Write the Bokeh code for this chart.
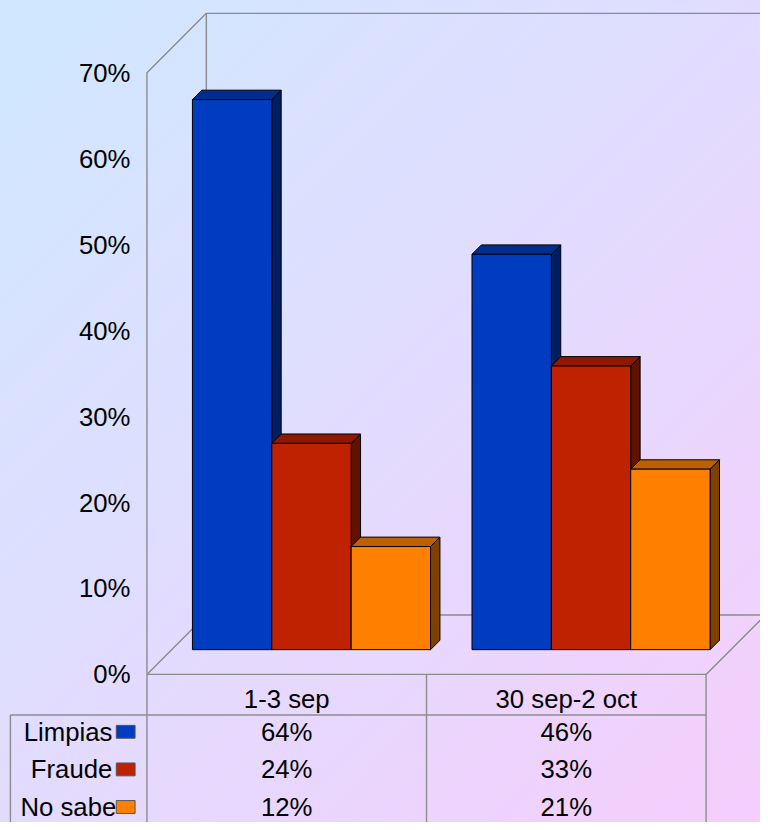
from bokeh.plotting import figure
from bokeh.models import FixedTicker, LinearAxis, Range1d, CustomJSTickFormatter
from bokeh.core.properties import value
from bokeh.embed import file_html
from bokeh.resources import INLINE

categories = ["1-3 sep", "30 sep-2 oct"]
series = ["Limpias", "Fraude", "No sabe"]
limpias = [64, 46]
fraude = [24, 33]
no_sabe = [12, 21]
y_ticks = [0, 10, 20, 30, 40, 50, 60, 70]
front_colors = ["#003cbf", "#bf2200", "#ff8000"]
top_colors = ["#002d8f", "#8f1900", "#bf6000"]
side_colors = ["#001f60", "#601100", "#804000"]
values = [limpias, fraude, no_sabe]

FONT = "Liberation Sans"
GRID = "#8c8c8c"

# Layout constants: reference pixels, scaled to the 760x822 figure
W, H = 760, 822
S = W / 768
FS = f"{26 * S:.2f}px"
AX_X = 148 * S
CAT_PX = 282.5 * S
VAL_PX = 608 / 70 * S
Y0 = 681 * S

p = figure(width=W, height=H, output_backend="svg", toolbar_location=None,
           x_range=Range1d(-AX_X / CAT_PX, (W - AX_X) / CAT_PX),
           y_range=Range1d(-(H - Y0) / VAL_PX, Y0 / VAL_PX),
           min_border_left=0, min_border_right=0, min_border_top=0, min_border_bottom=0,
           x_axis_type=None, y_axis_type=None,
           border_fill_color=None, background_fill_color=None, outline_line_color=None)
p.grid.visible = False
p.styles = {"background": "linear-gradient(135deg, #cfe8ff 0%, #e2dcff 50%, #f5cefc 100%)"}


def dx(px):
    return px * S / CAT_PX


def dy(px):
    return px * S / VAL_PX


DEPTH = dx(60), dy(60)

axis = LinearAxis(ticker=FixedTicker(ticks=y_ticks),
                  major_tick_line_color=None, minor_tick_line_color=None,
                  axis_line_color=None, major_label_standoff=-round(137 * S),
                  major_label_text_font=FONT, major_label_text_font_size=FS,
                  major_label_text_color="#000000",
                  formatter=CustomJSTickFormatter(code="return tick + '%'"))
p.add_layout(axis, "left")

n = len(categories)
top = y_ticks[-1]
xmax = (W - AX_X) / CAT_PX
# walls and floor
wall_x = [[0, 0, DEPTH[0], xmax], [DEPTH[0], DEPTH[0]], [0, DEPTH[0], xmax], [0, n], [n, n + DEPTH[0]]]
wall_y = [[0, top, top + DEPTH[1], top + DEPTH[1]], [top + DEPTH[1], DEPTH[1]],
          [0, DEPTH[1], DEPTH[1]], [0, 0], [0, DEPTH[1]]]
p.multi_line(wall_x, wall_y, line_color=GRID, line_width=1.4)

# table
T1 = dy(-41)
TB = -(H - Y0) / VAL_PX
XL = dx(10 - 148)
p.multi_line([[0, 0], [1, 1], [n, n], [XL, n], [XL, XL]],
             [[0, TB], [0, TB], [0, TB], [T1, T1], [T1, TB]], line_color=GRID, line_width=1.4)

# bars
bar_w = dx(80.2)
off_x, off_y = dx(25), dy(25)
d_x, d_y = dx(9.5), dy(9.5)
for c in range(n):
    for s in range(len(series)):
        v = values[s][c]
        x0 = c + 0.5 + off_x + (s - 1.5) * bar_w
        x1 = x0 + bar_w
        y0 = off_y
        y1 = v + off_y
        p.patch([x1, x1 + d_x, x1 + d_x, x1], [y0, y0 + d_y, y1 + d_y, y1],
                fill_color=side_colors[s], line_color="#000000", line_width=1)
        p.patch([x0, x0 + d_x, x1 + d_x, x1], [y1, y1 + d_y, y1 + d_y, y1],
                fill_color=top_colors[s], line_color="#000000", line_width=1)
        p.patch([x0, x1, x1, x0], [y0, y0, y1, y1],
                fill_color=front_colors[s], line_color="#000000", line_width=1)

# table texts
p.text([c + 0.5 for c in range(n)], [dy(-25)] * n, text=categories,
       text_font=value(FONT), text_font_size=value(FS), text_align="center",
       text_baseline="middle", text_color="#000000")
row_y = [dy(-58), dy(-96), dy(-134)]
label_x = [dx(113 - 148), dx(113 - 148), dx(117 - 148)]
p.text(label_x, row_y, text=series, text_font=value(FONT), text_font_size=value(FS),
       text_align="right", text_baseline="middle", text_color="#000000")
for s in range(len(series)):
    p.text([c + 0.5 for c in range(n)], [row_y[s]] * n,
           text=[f"{values[s][c]}%" for c in range(n)],
           text_font=value(FONT), text_font_size=value(FS), text_align="center",
           text_baseline="middle", text_color="#000000")
    p.quad(left=dx(117 - 148), right=dx(136 - 148),
           bottom=row_y[s] - dy(6.5), top=row_y[s] + dy(6.5),
           fill_color=front_colors[s], line_color="#555555", line_width=1)

open("out.html", "w").write(file_html(p, INLINE))
